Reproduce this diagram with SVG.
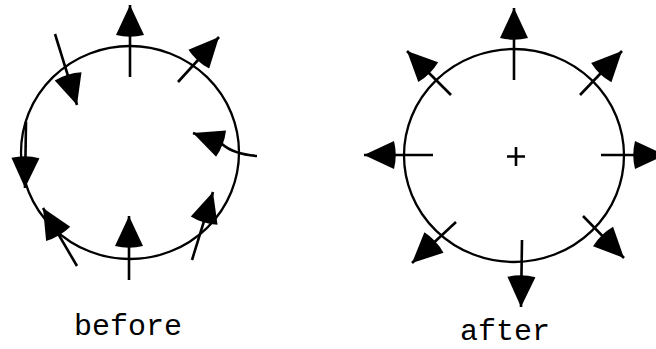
<svg xmlns="http://www.w3.org/2000/svg" width="656" height="349" viewBox="0 0 656 349">
<style>
.ring{fill:none;stroke:#000;stroke-width:2.3}
.arr{fill:none;stroke:#000;stroke-width:2.6;marker-end:url(#head)}
.tick{fill:none;stroke:#000;stroke-width:2.6}
.lbl{font-family:"Liberation Mono","Courier New",monospace;font-size:30px;fill:#000}
</style>
<defs>
<marker id="head" markerUnits="userSpaceOnUse" markerWidth="40" markerHeight="34" viewBox="-36 -17 40 34" refX="0" refY="0" orient="auto" overflow="visible">
<path d="M0,0 L-30,-14 Q-33.5,0 -30,14 Z" fill="#000"/>
</marker>
</defs>
<rect width="656" height="349" fill="#fff"/>
<g id="before">
<ellipse class="ring" cx="130" cy="152.5" rx="109" ry="106.5"/>
<text class="lbl" x="74" y="335">before</text>
</g>
<g id="after">
<ellipse class="ring" cx="514" cy="155.5" rx="110" ry="106.5"/>
<path class="tick" d="M507,156.5 H525 M516,147 V166"/>
<text class="lbl" x="460" y="340">after</text>
</g>
<g id="connectors">
<path class="arr" d="M130,77 L130,5"/>
<path class="arr" d="M178,82 L219,37"/>
<path class="arr" d="M55,34 L77,105"/>
<path class="arr" d="M257,156 Q233,154 222,144 L193,133"/>
<path class="arr" d="M26,122 L25,188"/>
<path class="arr" d="M77,266 L43,208"/>
<path class="arr" d="M129,280 L129,216"/>
<path class="arr" d="M192,260 L213,192"/>
<path class="arr" d="M514,80 L514,8"/>
<path class="arr" d="M601,155 L665,155"/>
<path class="arr" d="M433,155 L364,155"/>
<path class="arr" d="M522,240 L521,307"/>
<path class="arr" d="M451,95 L407,51"/>
<path class="arr" d="M580,95 L622,51"/>
<path class="arr" d="M456,222 L412,263"/>
<path class="arr" d="M583,216 L624,258"/>
</g>
</svg>
